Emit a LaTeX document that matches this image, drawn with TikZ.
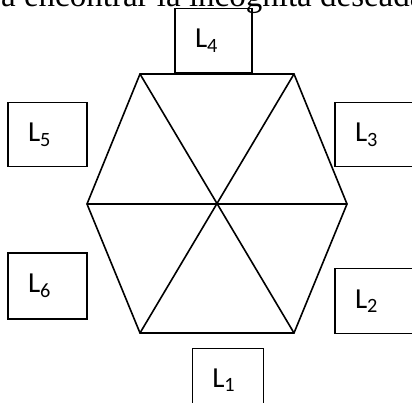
\documentclass[tikz,border=0pt]{standalone}
\usepackage{fontspec}
\newfontfamily\boxfont{Carlito}
\newfontfamily\captfont{Liberation Serif}

\begin{document}
\begin{tikzpicture}[x=1pt,y=-1pt,
        lbox/.style={draw, line width=1.4pt, font=\boxfont\fontsize{29}{32}\selectfont,
            text width=37pt, inner xsep=20pt, inner ysep=0pt, align=left, minimum height=64pt}]
        \useasboundingbox (0,0) rectangle (412,403);
        \clip (0,0) rectangle (412,403);
        % line of text cut off above
        \node[anchor=base west, inner sep=0pt, font=\captfont\fontsize{33}{38}\selectfont] (txt) at (-10,7) {ra encontrar la incógnita deseada};
        % hexagon
        \coordinate (a) at (87,204);
        \coordinate (b) at (140,74);
        \coordinate (c) at (294,74);
        \coordinate (d) at (347,204);
        \coordinate (e) at (294,333);
        \coordinate (f) at (140,333);
        \draw[line width=1.6pt] (a) -- (b) -- (c) -- (d) -- (e) -- (f) -- cycle;
        \draw[line width=1.6pt] (a) -- (d) (b) -- (e) (c) -- (f);
        % boxes
        \node[lbox] (l4) at (213.5,40.7) {L\textsubscript{4}};
        \node[lbox, text width=39pt] (l5) at (47.5,134.8) {L\textsubscript{5}};
        \node[lbox, text width=39pt] (l3) at (374.5,134.8) {L\textsubscript{3}};
        \node[lbox, text width=39pt, minimum height=66pt] (l6) at (47.5,286) {L\textsubscript{6}};
        \node[lbox, text width=39pt, minimum height=65pt] (l2) at (374.5,301.2) {L\textsubscript{2}};
        \node[lbox, text width=31pt] (l1) at (227.8,380.3) {L\textsubscript{1}};
    \end{tikzpicture}
\end{document}
